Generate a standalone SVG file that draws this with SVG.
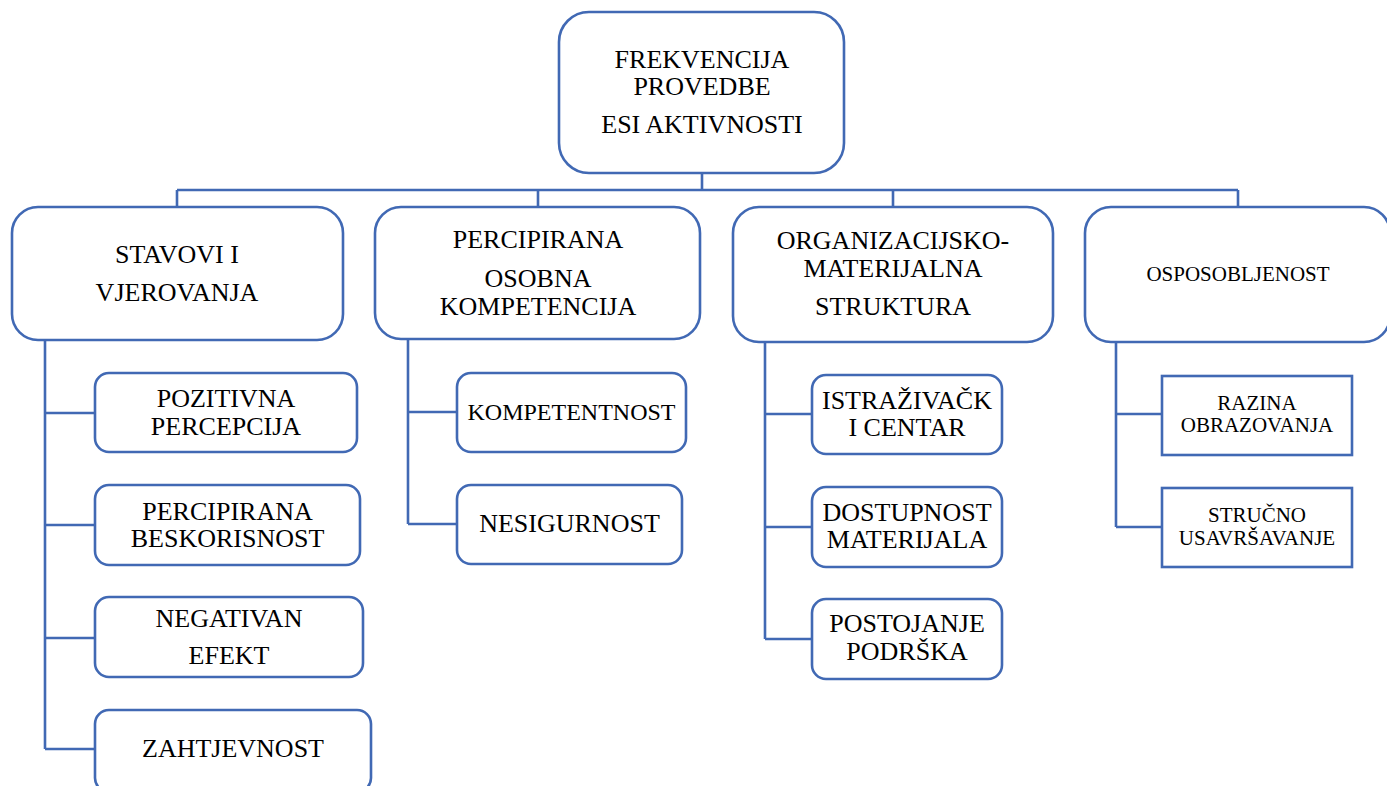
<svg xmlns="http://www.w3.org/2000/svg" width="1387" height="786" viewBox="0 0 1387 786">
<style>
.box{fill:#ffffff;stroke:#4169b4;stroke-width:2.6}
.ln{fill:none;stroke:#4169b4;stroke-width:2.6}
text{font-family:"Liberation Serif","Times New Roman",serif;fill:#000;text-anchor:middle}
.t26{font-size:26px}
.t24{font-size:24px}
.t21{font-size:21px}
</style>
<rect width="1387" height="786" fill="#ffffff"/>
<g id="connectors">
<path class="ln" d="M702 173 V190 M177 190 H1238 M177 190 V207 M538 190 V207 M893 190 V207 M1238 190 V207"/>
<path class="ln" d="M45 340 V749 M45 413 H95 M45 525 H95 M45 638 H95 M45 749 H95"/>
<path class="ln" d="M408 339 V524 M408 412 H457 M408 524 H457"/>
<path class="ln" d="M765 342 V639 M765 414 H812 M765 527 H812 M765 639 H812"/>
<path class="ln" d="M1116 342 V527 M1116 414 H1162 M1116 527 H1162"/>
</g>
<g id="n-root">
<rect class="box" x="559" y="12" width="285" height="161" rx="30"/>
<text class="t26" x="702" y="68">FREKVENCIJA</text>
<text class="t26" x="702" y="95">PROVEDBE</text>
<text class="t26" x="702" y="133">ESI AKTIVNOSTI</text>
</g>
<g id="n-stavovi">
<rect class="box" x="12" y="207" width="331" height="133" rx="26"/>
<text class="t26" x="177" y="263">STAVOVI I</text>
<text class="t26" x="177" y="301">VJEROVANJA</text>
</g>
<g id="n-percipirana">
<rect class="box" x="375" y="207" width="325" height="132" rx="26"/>
<text class="t26" x="538" y="248">PERCIPIRANA</text>
<text class="t26" x="538" y="287">OSOBNA</text>
<text class="t26" x="538" y="315">KOMPETENCIJA</text>
</g>
<g id="n-organizacijsko">
<rect class="box" x="733" y="207" width="320" height="135" rx="26"/>
<text class="t26" x="893" y="249">ORGANIZACIJSKO-</text>
<text class="t26" x="893" y="277">MATERIJALNA</text>
<text class="t26" x="893" y="315">STRUKTURA</text>
</g>
<g id="n-osposobljenost">
<rect class="box" x="1085" y="207" width="305" height="135" rx="26"/>
<text class="t21" x="1238" y="281">OSPOSOBLJENOST</text>
</g>
<g id="n-pozitivna">
<rect class="box" x="95" y="373" width="262" height="79" rx="14"/>
<text class="t26" x="226" y="407">POZITIVNA</text>
<text class="t26" x="226" y="435">PERCEPCIJA</text>
</g>
<g id="n-beskorisnost">
<rect class="box" x="95" y="485" width="265" height="80" rx="14"/>
<text class="t26" x="227.5" y="520">PERCIPIRANA</text>
<text class="t26" x="227.5" y="547">BESKORISNOST</text>
</g>
<g id="n-negativan">
<rect class="box" x="95" y="597" width="268" height="80" rx="14"/>
<text class="t26" x="229" y="627">NEGATIVAN</text>
<text class="t26" x="229" y="664">EFEKT</text>
</g>
<g id="n-zahtjevnost">
<rect class="box" x="95" y="710" width="276" height="82" rx="14"/>
<text class="t26" x="233" y="757">ZAHTJEVNOST</text>
</g>
<g id="n-kompetentnost">
<rect class="box" x="457" y="373" width="229" height="79" rx="14"/>
<text class="t24" x="571.5" y="420">KOMPETENTNOST</text>
</g>
<g id="n-nesigurnost">
<rect class="box" x="457" y="485" width="225" height="79" rx="14"/>
<text class="t26" x="569.5" y="532">NESIGURNOST</text>
</g>
<g id="n-istrazivacki">
<rect class="box" x="812" y="375" width="190" height="79" rx="14"/>
<text class="t26" x="907" y="409">ISTRAŽIVAČK</text>
<text class="t26" x="907" y="436">I CENTAR</text>
</g>
<g id="n-dostupnost">
<rect class="box" x="812" y="487" width="190" height="80" rx="14"/>
<text class="t26" x="907" y="521">DOSTUPNOST</text>
<text class="t26" x="907" y="548">MATERIJALA</text>
</g>
<g id="n-postojanje">
<rect class="box" x="812" y="599" width="190" height="80" rx="14"/>
<text class="t26" x="907" y="632">POSTOJANJE</text>
<text class="t26" x="907" y="660">PODRŠKA</text>
</g>
<g id="n-razina">
<rect class="box" x="1162" y="376" width="190" height="79"/>
<text class="t21" x="1257" y="410">RAZINA</text>
<text class="t21" x="1257" y="432">OBRAZOVANJA</text>
</g>
<g id="n-strucno">
<rect class="box" x="1162" y="488" width="190" height="79"/>
<text class="t21" x="1257" y="522">STRUČNO</text>
<text class="t21" x="1257" y="545">USAVRŠAVANJE</text>
</g>
</svg>
